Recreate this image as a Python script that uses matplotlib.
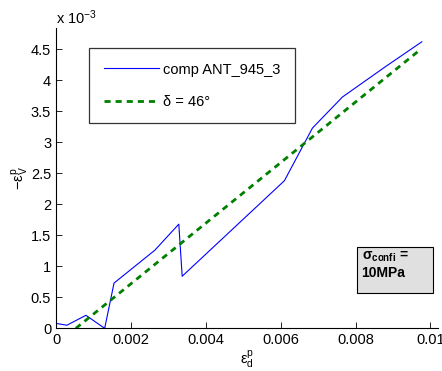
import matplotlib
matplotlib.use('Agg')
import matplotlib.pyplot as plt
from matplotlib.patches import Rectangle

plt.rcParams['font.family'] = ['Liberation Sans', 'DejaVu Sans']
plt.rcParams['mathtext.fontset'] = 'custom'
plt.rcParams['mathtext.rm'] = 'Liberation Sans'
plt.rcParams['mathtext.it'] = 'Liberation Sans'
plt.rcParams['mathtext.bf'] = 'Liberation Sans:bold'

# blue curve (x = eps_d^p, y = -eps_v^p)
comp_x = [0.0, 0.00029, 0.0008, 0.0013, 0.00155, 0.00264, 0.00328, 0.00337,
          0.0061, 0.00685, 0.00765, 0.0088, 0.00977]
comp_y = [0.08e-3, 0.05e-3, 0.21e-3, 0.0, 0.73e-3, 1.26e-3, 1.68e-3, 0.84e-3,
          2.38e-3, 3.23e-3, 3.73e-3, 4.22e-3, 4.62e-3]

# dilatancy line
fit_x = [0.00053, 0.00966]
fit_y = [0.0, 4.46e-3]

yticks = [0, 0.5e-3, 1e-3, 1.5e-3, 2e-3, 2.5e-3, 3e-3, 3.5e-3, 4e-3, 4.5e-3]
ytick_labels = ['0', '0.5', '1', '1.5', '2', '2.5', '3', '3.5', '4', '4.5']
xticks = [0, 0.002, 0.004, 0.006, 0.008, 0.01]
xtick_labels = ['0', '0.002', '0.004', '0.006', '0.008', '0.01']

fig = plt.figure(figsize=(4.42, 3.71), dpi=100)
ax = fig.add_axes([0.1267, 0.115, 0.864, 0.809])

ax.plot(comp_x, comp_y, color='#0000ff', lw=0.8, label='comp ANT_945_3')
ax.plot(fit_x, fit_y, color='#008000', lw=2, ls=(0, (2.2, 1.8)), label='δ = 46°')

ax.set_xlim(0, 0.0102)
ax.set_ylim(0, 4.84e-3)
ax.set_xticks(xticks)
ax.set_xticklabels(xtick_labels)
ax.set_yticks(yticks)
ax.set_yticklabels(ytick_labels)
ax.tick_params(direction='in', labelsize=10.5, length=4, width=0.6)
ax.spines['top'].set_visible(False)
ax.spines['right'].set_visible(False)

ax.text(0.0, 1.005, r'x 10$^{-3}$', transform=ax.transAxes, fontsize=10.5,
        ha='left', va='bottom')

ax.set_xlabel(r'$\mathregular{\epsilon_d^p}$', fontsize=10.5, labelpad=1)
ax.set_ylabel(r'$\mathregular{-\epsilon_V^p}$', fontsize=10.5, labelpad=0)

leg = ax.legend(loc='upper left', bbox_to_anchor=(0.0865, 0.934), fontsize=10.5,
                frameon=True, fancybox=False, edgecolor='black',
                borderpad=1.0, labelspacing=1.25, handlelength=3.8,
                handletextpad=0.3, borderaxespad=0)
leg.get_frame().set_linewidth(0.9)

# annotation box
ax.add_patch(Rectangle((0.788, 0.118), 0.2, 0.153, transform=ax.transAxes,
                       facecolor='#e0e0e0', edgecolor='black', lw=0.8,
                       clip_on=False, zorder=3))
ax.text(0.80, 0.262, r'$\mathbf{\sigma_{confi}}$ =' + '\n10MPa',
        transform=ax.transAxes, fontsize=10, fontweight='bold',
        ha='left', va='top', linespacing=1.15, zorder=4)

fig.savefig('out.png', dpi=100)
